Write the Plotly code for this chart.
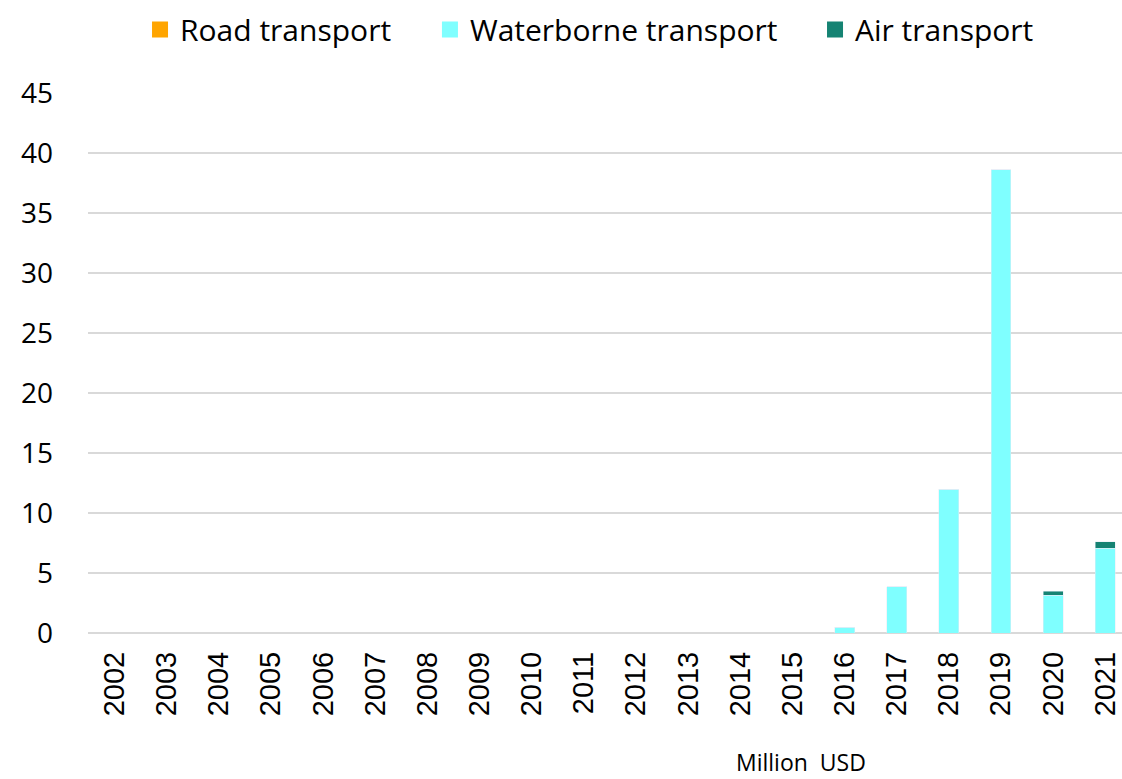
import plotly.graph_objects as go

years = [str(y) for y in range(2002, 2022)]
road = [0] * 20
waterborne = [0, 0, 0, 0, 0, 0, 0, 0, 0, 0, 0, 0, 0, 0, 0.47, 3.86, 12.0, 38.6, 3.14, 7.08]
air = [0, 0, 0, 0, 0, 0, 0, 0, 0, 0, 0, 0, 0, 0, 0, 0, 0, 0, 0.33, 0.53]

series = [
    ("Road transport", road, "#FFA500"),
    ("Waterborne transport", waterborne, "#7FFFFF"),
    ("Air transport", air, "#158373"),
]
legend_ids = ["legend", "legend2", "legend3"]
legend_x = [0.1248, 0.3832, 0.7264]

FONT = "Open Sans"

fig = go.Figure()
for name, vals, color in series:
    fig.add_trace(go.Bar(name=name, x=years, y=vals, marker_color=color,
                         width=0.38, showlegend=False, legendgroup=name))
# legend entries with larger square swatches, each in its own legend box
for (name, vals, color), lid in zip(series, legend_ids):
    fig.add_trace(go.Scatter(name=name, x=[None], y=[None], mode="markers",
                             marker=dict(symbol="square", size=18, color=color),
                             legendgroup=name, showlegend=True, legend=lid))

legend_style = dict(
    orientation="h",
    xanchor="left",
    y=0.962, yanchor="middle",
    xref="container", yref="container",
    font=dict(size=30),
    itemsizing="trace",
    itemwidth=30,
    bgcolor="rgba(0,0,0,0)",
)

fig.update_layout(
    barmode="stack",
    width=1122,
    height=779,
    margin=dict(l=88, r=0, t=93, b=146),
    paper_bgcolor="white",
    plot_bgcolor="white",
    font=dict(family=FONT, color="#000000", size=28),
    showlegend=True,
    legend=dict(x=legend_x[0], **legend_style),
    legend2=dict(x=legend_x[1], **legend_style),
    legend3=dict(x=legend_x[2], **legend_style),
    xaxis=dict(
        type="category",
        range=[-0.51, 19.32],
        automargin=False,
        tickangle=-90,
        showgrid=False,
        showline=False,
        ticks="",
        tickfont=dict(size=29, family="Liberation Sans"),
        ticklabelstandoff=12,
    ),
    yaxis=dict(
        range=[0, 45],
        automargin=False,
        tickvals=list(range(0, 50, 5)),
        showgrid=True,
        gridcolor="#D9D9D9",
        gridwidth=2,
        zeroline=True,
        zerolinecolor="#D9D9D9",
        zerolinewidth=2,
        showline=False,
        ticks="",
        tickfont=dict(size=28),
        ticklabelstandoff=34,
    ),
    annotations=[
        dict(
            text="Million  USD",
            x=0.69, xref="paper",
            y=-0.239, yref="paper",
            xanchor="center", yanchor="middle",
            showarrow=False,
            font=dict(size=23, family=FONT),
        )
    ],
)

fig.write_html("out.html")
